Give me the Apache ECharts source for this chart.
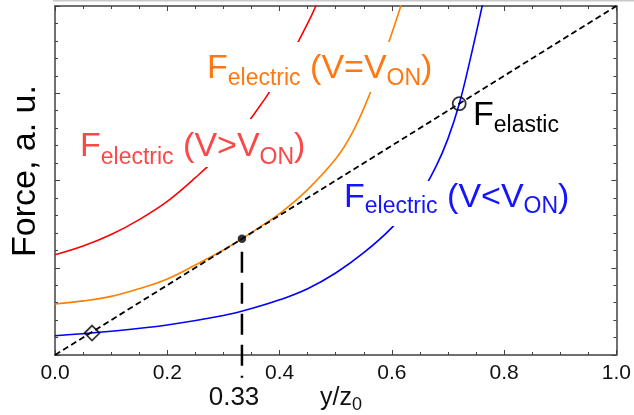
<!DOCTYPE html>
<html>
<head>
<meta charset="utf-8">
<script src="https://cdn.jsdelivr.net/npm/echarts@6/dist/echarts.min.js"></script>
<style>
  html, body { margin: 0; padding: 0; background: #fff; }
  #chart { width: 634px; height: 415px; }
</style>
</head>
<body>
<div id="chart"></div>
<script>
// Normalised displacement y/z0 and forces (arbitrary units)
const xTickLabels = ['0.0', '0.2', '0.4', '0.6', '0.8', '1.0'];

// Electrostatic force above the pull-in voltage
const highX = [0, 0.05, 0.1, 0.15, 0.2, 0.25, 0.3, 0.35, 0.4, 0.45, 0.47];
const highY = [0.287, 0.312, 0.345, 0.388, 0.44, 0.508, 0.585, 0.68, 0.8, 0.95, 1.02];

// Electrostatic force at the pull-in voltage (tangent to the spring line)
const onX = [0, 0.05, 0.1, 0.15, 0.2, 0.25, 0.3, 0.333, 0.37, 0.4, 0.45, 0.5, 0.53, 0.56, 0.59, 0.62];
const onY = [0.146, 0.155, 0.168, 0.19, 0.218, 0.258, 0.301, 0.333, 0.372, 0.405, 0.474, 0.562, 0.638, 0.745, 0.875, 1.02];

// Electrostatic force below the pull-in voltage
const lowX = [0, 0.1, 0.2, 0.3, 0.35, 0.4, 0.45, 0.5, 0.55, 0.6, 0.65, 0.68, 0.7, 0.72, 0.74, 0.765];
const lowY = [0.055, 0.068, 0.086, 0.113, 0.133, 0.158, 0.19, 0.235, 0.293, 0.365, 0.46, 0.545, 0.62, 0.719, 0.85, 1.03];

// Linear elastic restoring force
const elasticX = [0, 1];
const elasticY = [0, 1];

// Marked operating points
const pullInPoint = [0.333, 0.333];
const pullInGuideY = [0.296, -0.065];
const stableLowPoint = [0.066, 0.063];
const unstableLowPoint = [0.72, 0.72];

const zip = (xs, ys) => xs.map((x, i) => [x, ys[i]]);

const FONT = '"Liberation Sans", Arial, Helvetica, sans-serif';
const MAIN = 34;
const SUB = 23;

const ctx = document.createElement('canvas').getContext('2d');
function textWidth(t, size) {
  ctx.font = size + 'px ' + FONT;
  return ctx.measureText(t).width;
}
// distance from the canvas "middle" line down to the alphabetic baseline
function baselineOffset(size) {
  ctx.font = size + 'px ' + FONT;
  ctx.textBaseline = 'alphabetic';
  const a = ctx.measureText('Hg').fontBoundingBoxAscent;
  ctx.textBaseline = 'middle';
  const m = ctx.measureText('Hg').fontBoundingBoxAscent;
  ctx.textBaseline = 'alphabetic';
  if (typeof a !== 'number' || typeof m !== 'number') return 0.32 * size;
  return a - m;
}

// one text run per part, subscripts dropped below the main baseline
function subscriptLabel(x, baseline, parts, color, drop) {
  const els = [];
  let cx = x;
  parts.forEach(p => {
    const size = p.sub ? (p.size || SUB) : (p.size || MAIN);
    const by = baseline + (p.sub ? drop : 0);
    els.push({
      type: 'text', z: 120, x: cx, y: by - baselineOffset(size),
      style: {
        text: p.t, font: size + 'px ' + FONT, fill: color,
        align: 'left', verticalAlign: 'middle',
        textAlign: 'left', textVerticalAlign: 'middle'
      }
    });
    cx += textWidth(p.t, size);
  });
  return els;
}

function whiteBox(x, y, w, h) {
  return { type: 'rect', z: 110, shape: { x, y, width: w, height: h }, style: { fill: '#fff' } };
}

const chart = echarts.init(document.getElementById('chart'));

const axisColor = '#404040';
function xAxisDef(pos, labels) {
  return {
    type: 'value', min: 0, max: 1, interval: 0.2, position: pos,
    axisLine: { show: true, onZero: false, lineStyle: { color: axisColor, width: 1.5 } },
    axisTick: { show: true, inside: true, length: 5, lineStyle: { color: axisColor, width: 1 } },
    minorTick: { show: true, splitNumber: 4, length: 3, lineStyle: { color: axisColor, width: 1 } },
    splitLine: { show: false },
    minorSplitLine: { show: false },
    axisLabel: labels ? {
      show: true, margin: 8, fontSize: 21, fontFamily: FONT, color: '#111',
      formatter: v => xTickLabels[Math.round(v / 0.2)]
    } : { show: false }
  };
}
function yAxisDef(pos) {
  return {
    type: 'value', min: 0, max: 1, interval: 0.25, position: pos,
    axisLine: { show: true, onZero: false, lineStyle: { color: axisColor, width: 1.5 } },
    axisTick: { show: true, inside: true, length: 5, lineStyle: { color: axisColor, width: 1 } },
    minorTick: { show: true, splitNumber: 5, length: 3, lineStyle: { color: axisColor, width: 1 } },
    splitLine: { show: false },
    minorSplitLine: { show: false },
    axisLabel: { show: false }
  };
}

function curve(xs, ys, color) {
  return {
    type: 'line', data: zip(xs, ys), smooth: 0.4, symbol: 'none', z: 2,
    lineStyle: { color, width: 1.6 }, silent: true
  };
}

const graphics = [
  // thin frame edge along the top of the figure
  { type: 'line', z: 1, shape: { x1: 53, y1: 0.75, x2: 634, y2: 0.75 }, style: { stroke: '#c8c8c8', lineWidth: 1.5 } },

  whiteBox(200, 42, 248, 50),
  whiteBox(74, 119, 240, 48),
  whiteBox(342, 181, 236, 45),

  ...subscriptLabel(207, 78, [
    { t: 'F' }, { t: 'electric', sub: true }, { t: ' (V=V' }, { t: 'ON', sub: true }, { t: ')' }
  ], '#ff7812', 7),
  ...subscriptLabel(80, 156, [
    { t: 'F' }, { t: 'electric', sub: true }, { t: ' (V>V' }, { t: 'ON', sub: true }, { t: ')' }
  ], '#f84848', 7.5),
  ...subscriptLabel(344, 207, [
    { t: 'F' }, { t: 'electric', sub: true }, { t: ' (V<V' }, { t: 'ON', sub: true }, { t: ')' }
  ], '#1414ff', 6),
  ...subscriptLabel(473, 125, [
    { t: 'F' }, { t: 'elastic', sub: true }
  ], '#000', 6.5),

  // pull-in position value under the axis
  {
    type: 'text', z: 120, x: 234, y: 405 - baselineOffset(26),
    style: { text: '0.33', font: '26px ' + FONT, fill: '#111', align: 'center', verticalAlign: 'middle', textAlign: 'center', textVerticalAlign: 'middle' }
  },
  // x axis title y/z0
  ...subscriptLabel(320, 405, [
    { t: 'y/z', size: 25 }, { t: '0', sub: true, size: 18 }
  ], '#111', 5),
  // y axis title
  {
    type: 'text', z: 120, x: 35 - baselineOffset(34), y: 171, rotation: Math.PI / 2,
    style: { text: 'Force, a. u.', font: '34px ' + FONT, fill: '#000', align: 'center', verticalAlign: 'middle', textAlign: 'center', textVerticalAlign: 'middle' }
  }
];

chart.setOption({
  animation: false,
  backgroundColor: '#fff',
  grid: { left: 55, right: 14, top: 6, bottom: 60, containLabel: false },
  xAxis: [xAxisDef('bottom', true), xAxisDef('top', false)],
  yAxis: [yAxisDef('left'), yAxisDef('right')],
  series: [
    curve(highX, highY, '#ff0000'),
    curve(onX, onY, '#ff8000'),
    curve(lowX, lowY, '#0000ff'),
    {
      type: 'line', data: zip(elasticX, elasticY), symbol: 'none', z: 3, silent: true,
      lineStyle: { color: '#000', width: 1.8, type: [6, 3.5] }
    },
    {
      type: 'line', data: pullInGuideY.map(y => [pullInPoint[0], y]), symbol: 'none', z: 3, clip: false, silent: true,
      lineStyle: { color: '#000', width: 2.5, type: [21, 10] }
    },
    {
      type: 'scatter', data: [pullInPoint], symbol: 'circle', symbolSize: 8.5, z: 5, silent: true,
      itemStyle: { color: '#000' }
    },
    {
      type: 'scatter', data: [stableLowPoint], symbol: 'diamond', symbolSize: [15, 15], z: 5, silent: true,
      itemStyle: { color: 'rgba(0,0,0,0)', borderColor: '#000', borderWidth: 1.8 }
    },
    {
      type: 'scatter', data: [unstableLowPoint], symbol: 'circle', symbolSize: 13, z: 5, silent: true,
      itemStyle: { color: 'rgba(0,0,0,0)', borderColor: '#000', borderWidth: 1.8 }
    }
  ],
  graphic: graphics
});
</script>
</body>
</html>
